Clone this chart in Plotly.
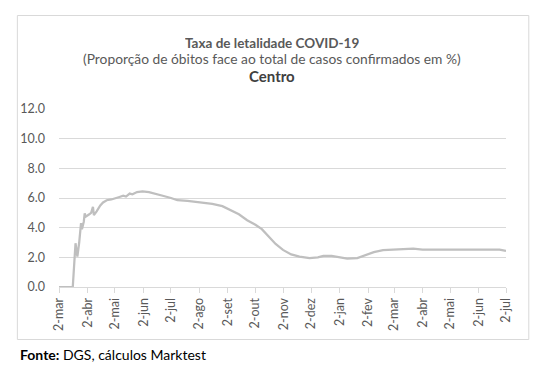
import plotly.graph_objects as go

# ---- data ----
dates = [
    "2020-03-02", "2020-03-17", "2020-03-20", "2020-03-22", "2020-03-24",
    "2020-03-26", "2020-03-27", "2020-03-29", "2020-03-30", "2020-03-31",
    "2020-04-04", "2020-04-06", "2020-04-08", "2020-04-09", "2020-04-12",
    "2020-04-16", "2020-04-19", "2020-04-23", "2020-04-28", "2020-05-02",
    "2020-05-06", "2020-05-11", "2020-05-14", "2020-05-18", "2020-05-21",
    "2020-05-26", "2020-06-01", "2020-06-08", "2020-06-15", "2020-06-23",
    "2020-07-02", "2020-07-09", "2020-07-20", "2020-08-02", "2020-08-16",
    "2020-08-27", "2020-09-04", "2020-09-14", "2020-09-23", "2020-10-02",
    "2020-10-09", "2020-10-17", "2020-10-24", "2020-11-01", "2020-11-10",
    "2020-11-19", "2020-11-30", "2020-12-09", "2020-12-15", "2020-12-24",
    "2021-01-02", "2021-01-10", "2021-01-21", "2021-01-29", "2021-02-08",
    "2021-02-18", "2021-03-01", "2021-03-15", "2021-03-23", "2021-04-02",
    "2021-05-13", "2021-06-25", "2021-07-02",
]
values = [
    0.0, 0.0, 2.95, 2.05, 3.0,
    4.3, 3.9, 4.4, 4.97, 4.74,
    4.9, 5.0, 5.41, 4.85, 5.1,
    5.5, 5.7, 5.85, 5.9, 6.0,
    6.05, 6.15, 6.1, 6.3, 6.25,
    6.4, 6.45, 6.4, 6.3, 6.15,
    6.0, 5.85, 5.8, 5.7, 5.6,
    5.45, 5.2, 4.9, 4.5, 4.2,
    3.9, 3.4, 2.9, 2.5, 2.2,
    2.05, 1.95, 2.0, 2.1, 2.1,
    2.0, 1.92, 1.95, 2.15, 2.35,
    2.48, 2.52, 2.55, 2.58, 2.52,
    2.52, 2.52, 2.43,
]
tick_dates = [
    "2020-03-02", "2020-04-02", "2020-05-02", "2020-06-02", "2020-07-02",
    "2020-08-02", "2020-09-02", "2020-10-02", "2020-11-02", "2020-12-02",
    "2021-01-02", "2021-02-02", "2021-03-02", "2021-04-02", "2021-05-02",
    "2021-06-02", "2021-07-02",
]
tick_labels = [
    "2-mar", "2-abr", "2-mai", "2-jun", "2-jul", "2-ago", "2-set", "2-out",
    "2-nov", "2-dez", "2-jan", "2-fev", "2-mar", "2-abr", "2-mai", "2-jun",
    "2-jul",
]
y_ticks = [0, 2, 4, 6, 8, 10, 12]
y_labels = ["0.0", "2.0", "4.0", "6.0", "8.0", "10.0", "12.0"]

title1 = "Taxa de letalidade COVID-19"
title2 = "(Proporção de óbitos face ao total de casos confirmados em %)"
title3 = "Centro"
source = "<b>Fonte:</b> DGS, cálculos Marktest"

# ---- layout geometry (target screenshot pixels) ----
OFF = 8  # default page body margin shifts the figure by 8 px
W, H = 540 - OFF, 375 - OFF
L, R, T, B = 55, 506, 109, 287
pw, ph = R - L, B - T

def px(x):
    return (x - L) / pw

def py(y):
    return (B - y) / ph

FONT = "Lato, Carlito, Calibri, sans-serif"
TXT = "#595959"
GRID = "#d9d9d9"

fig = go.Figure()
fig.add_trace(go.Scatter(
    x=dates, y=values, mode="lines",
    line=dict(color="#bfbfbf", width=2.25),
    hoverinfo="skip", showlegend=False, cliponaxis=False,
))

fig.update_layout(
    width=W, height=H,
    margin=dict(l=L - OFF, r=W - (R - OFF), t=T - OFF, b=H - (B - OFF), pad=0),
    paper_bgcolor="white", plot_bgcolor="white",
    font=dict(family=FONT, color=TXT, size=12),
    xaxis=dict(
        type="date",
        range=["2020-03-02", "2021-07-02"],
        tickmode="array", tickvals=tick_dates, ticktext=tick_labels,
        tickangle=-90, ticks="outside", ticklen=5, tickcolor=GRID,
        tickfont=dict(size=12.5, color=TXT, family=FONT),
        showgrid=False, zeroline=False,
        showline=True, linecolor=GRID, linewidth=1,
        fixedrange=True,
    ),
    yaxis=dict(
        range=[0, 12],
        tickmode="array", tickvals=y_ticks, ticktext=y_labels,
        showgrid=True, gridcolor=GRID, gridwidth=1,
        zeroline=False, showline=False, ticks="",
        ticklabelstandoff=13,
        tickfont=dict(size=12.5, color=TXT, family=FONT),
        fixedrange=True,
    ),
)

# outer chart border
fig.add_shape(type="rect", xref="paper", yref="paper",
              x0=px(13), x1=px(529), y0=py(339.5), y1=py(15.5),
              line=dict(color=GRID, width=1), layer="below")

cx = px(270)
fig.add_annotation(text="<b>" + title1 + "</b>", x=cx, y=py(42), xref="paper", yref="paper",
                   showarrow=False, xanchor="center", yanchor="middle", height=15,
                   font=dict(size=13.5, color=TXT, family=FONT))
fig.add_annotation(text=title2, x=cx, y=py(58), xref="paper", yref="paper",
                   showarrow=False, xanchor="center", yanchor="middle", height=15,
                   font=dict(size=13.8, color=TXT, family=FONT))
fig.add_annotation(text="<b>" + title3 + "</b>", x=cx, y=py(75.5), xref="paper", yref="paper",
                   showarrow=False, xanchor="center", yanchor="middle", height=16,
                   font=dict(size=15, color="#404040", family=FONT))
fig.add_annotation(text=source, x=px(14), y=py(354), xref="paper", yref="paper",
                   showarrow=False, xanchor="left", yanchor="middle",
                   font=dict(size=14, color="#000000", family=FONT))

fig.write_html("out.html")
